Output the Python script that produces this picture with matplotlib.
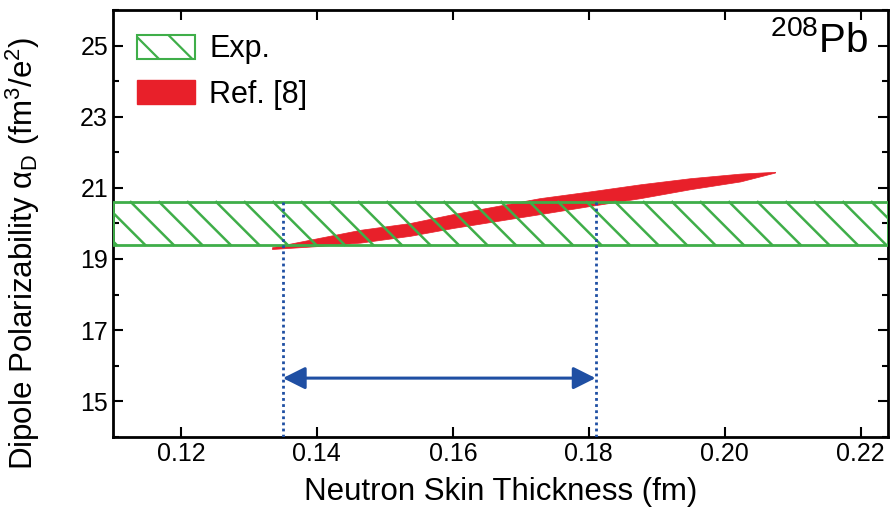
import numpy as np
import matplotlib.pyplot as plt
from matplotlib.patches import Patch
from matplotlib.ticker import MultipleLocator

plt.rcParams['font.family'] = ['Liberation Sans', 'DejaVu Sans']
plt.rcParams['mathtext.fontset'] = 'custom'
plt.rcParams['mathtext.rm'] = 'Liberation Sans'
plt.rcParams['mathtext.it'] = 'Liberation Sans:italic'
plt.rcParams['hatch.linewidth'] = 1.6

# Experimental alpha_D band (fm^3/e^2)
exp_low = 19.4
exp_high = 20.6

# Ref. [8] correlation band: lower / upper edges
ref_x = [0.1334, 0.140, 0.1464, 0.1537, 0.1600, 0.1728, 0.1802, 0.1876, 0.1949, 0.2023, 0.2074]
ref_lower = [19.28, 19.36, 19.46, 19.65, 19.87, 20.26, 20.49, 20.71, 20.96, 21.18, 21.43]
ref_upper = [19.33, 19.58, 19.82, 20.01, 20.26, 20.71, 20.90, 21.10, 21.27, 21.40, 21.45]

# Resulting neutron skin range (fm)
skin_range = [0.135, 0.181]
arrow_y = 15.65

green = '#3fae49'
red = '#e8202a'
blue = '#1f4fa3'

fig, ax = plt.subplots(figsize=(8.96, 5.25), dpi=100)
fig.subplots_adjust(left=0.126, right=0.991, top=0.981, bottom=0.168)
ax.set_xlim(0.11, 0.224)
ax.set_ylim(14, 26)

# red band
ax.fill_between(ref_x, ref_lower, ref_upper, color=red, lw=0.5, zorder=2)

# exp band outline + hatch lines (45 deg on screen, ~28 px apart)
ax.axhspan(exp_low, exp_high, facecolor='none', edgecolor=green, lw=2, zorder=3)
p0 = ax.transData.transform((0.11, exp_low))
p1 = ax.transData.transform((0.12, exp_high))
px_per_x = (p1[0] - p0[0]) / 0.01
px_per_y = (p1[1] - p0[1]) / (exp_high - exp_low)
shift = (exp_high - exp_low) * px_per_y / px_per_x
step = 28.5 / px_per_x
for x0 in np.arange(0.1839 - 30 * step, 0.23, step):
    ax.plot([x0, x0 + shift], [exp_high, exp_low], color=green, lw=1.8, zorder=3)

# dotted verticals and double arrow
for xs in skin_range:
    ax.plot([xs, xs], [14, exp_high], color=blue, ls=(0, (1, 1.2)), lw=2, zorder=4)
ax.annotate('', xy=(skin_range[0], arrow_y), xytext=(skin_range[1], arrow_y),
            arrowprops=dict(arrowstyle='<|-|>', color=blue, lw=2.2,
                            mutation_scale=34, shrinkA=0, shrinkB=0))

# legend
handles = [Patch(facecolor='white', edgecolor=green, hatch='\\', lw=1.5, label='Exp.'),
           Patch(facecolor=red, edgecolor=red, label='Ref. [8]')]
ax.legend(handles=handles, loc='upper left', frameon=False, fontsize=22,
          handlelength=1.9, handleheight=0.82, handletextpad=0.45,
          labelspacing=0.5, borderaxespad=0.5, borderpad=0.3)

ax.text(0.975, 0.975, r'$^{208}$Pb', transform=ax.transAxes, ha='right', va='top', fontsize=29)

ax.set_xticks([0.12, 0.14, 0.16, 0.18, 0.20, 0.22])
ax.set_xticklabels(['0.12', '0.14', '0.16', '0.18', '0.20', '0.22'])
ax.set_yticks([15, 17, 19, 21, 23, 25])
ax.yaxis.set_minor_locator(MultipleLocator(1))
ax.tick_params(which='both', direction='in', top=True, right=True, labelsize=18, width=1.5)
ax.tick_params(which='major', length=7)
ax.tick_params(which='minor', length=4)
for s in ax.spines.values():
    s.set_linewidth(2)

ax.set_xlabel('Neutron Skin Thickness (fm)', fontsize=22.5, labelpad=8)
ax.set_ylabel(r'Dipole Polarizability α$_\mathrm{D}$ (fm$^3$/e$^2$)', fontsize=22.5)
ax.yaxis.set_label_coords(-0.092, 0.43)

plt.savefig('out.png', dpi=100)
